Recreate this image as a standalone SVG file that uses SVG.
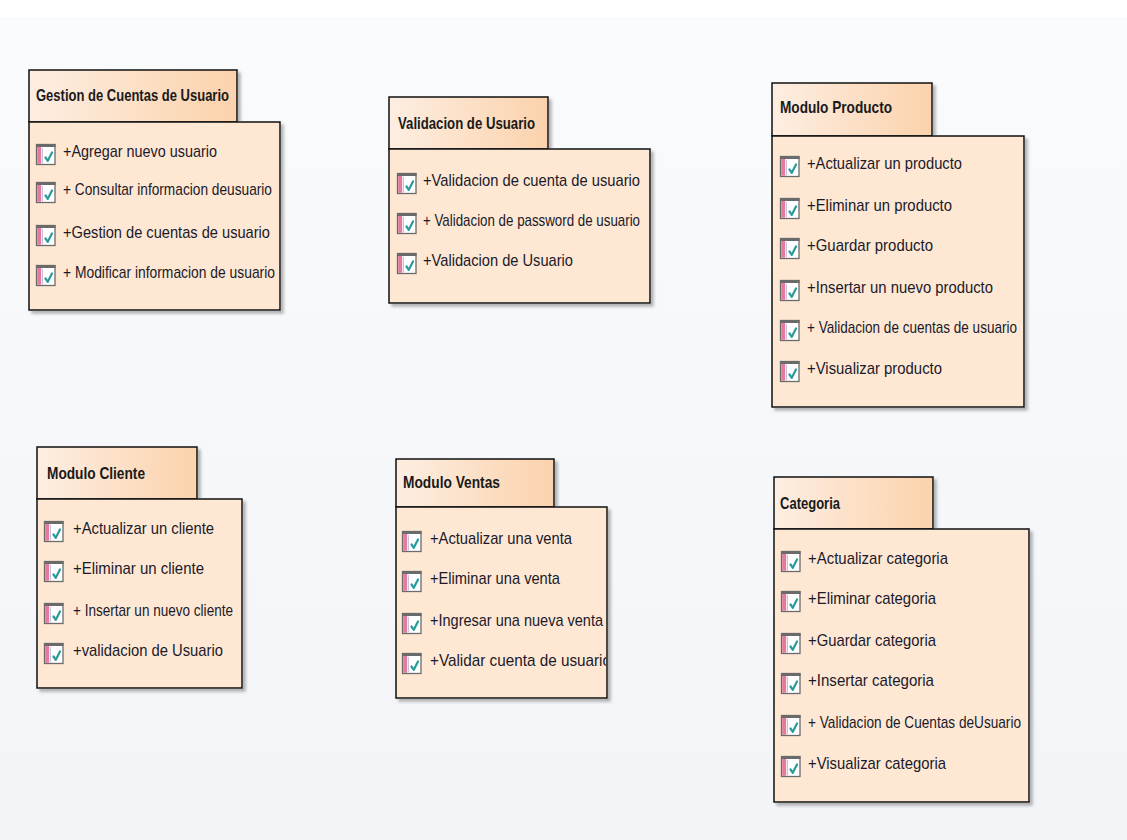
<svg xmlns="http://www.w3.org/2000/svg" xmlns:xlink="http://www.w3.org/1999/xlink" width="1127" height="840" viewBox="0 0 1127 840">
  <defs>
    <linearGradient id="bg" x1="0" y1="0" x2="0" y2="1">
      <stop offset="0" stop-color="#fafbfc"/>
      <stop offset="1" stop-color="#f2f4f8"/>
    </linearGradient>
    <linearGradient id="tabFill" x1="0" y1="0" x2="1" y2="0">
      <stop offset="0" stop-color="#fdeee2"/>
      <stop offset="1" stop-color="#fbd2ac"/>
    </linearGradient>
    <filter id="shadow" x="-10%" y="-10%" width="130%" height="130%">
      <feDropShadow dx="3" dy="3" stdDeviation="1.8" flood-color="#7a7a7a" flood-opacity="0.55"/>
    </filter>
    <!-- operation checkbox icon -->
    <g id="op">
      <rect x="0.5" y="0.5" width="18.5" height="20" fill="#ffffff" stroke="#6a6a6a" stroke-width="1.3"/>
      <rect x="0" y="0" width="19.5" height="3" fill="#6a6a6a"/>
      <rect x="1.2" y="3" width="4" height="16.8" fill="#e47a9c"/>
      <line x1="6.5" y1="4" x2="6.5" y2="19.5" stroke="#c8c0e0" stroke-width="1"/>
      <path d="M9.5 13.5 L11.8 16.8 L16 8.5" fill="none" stroke="#2a9a9a" stroke-width="2.2" stroke-linecap="round" stroke-linejoin="round"/>
    </g>
    <clipPath id="clipVentas">
      <rect x="396" y="507" width="210" height="191"/>
    </clipPath>
  </defs>
  <style>
    .tab { fill: url(#tabFill); stroke: #111; stroke-width: 1.5; }
    .body { fill: #fee8d4; stroke: #111; stroke-width: 1.5; }
    .title { font-family: "Liberation Sans Narrow", "Liberation Sans", sans-serif; font-size: 16.5px; font-weight: bold; fill: #1a1a1a; }
    .item { font-family: "Liberation Sans Narrow", "Liberation Sans", sans-serif; font-size: 17px; fill: #1a1a2a; }
  </style>

  <rect x="0" y="0" width="1127" height="840" fill="#ffffff"/>
  <rect x="0" y="17" width="1127" height="823" fill="url(#bg)"/>

  <!-- Gestion de Cuentas de Usuario -->
  <g id="pkg-gestion-cuentas">
    <g filter="url(#shadow)">
      <rect class="tab" x="29" y="70" width="208" height="52"/>
      <rect class="body" x="29" y="122" width="251" height="188"/>
    </g>
    <text class="title" x="36" y="101" textLength="193" lengthAdjust="spacingAndGlyphs">Gestion de Cuentas de Usuario</text>
    <use xlink:href="#op" x="36" y="144"/>
    <text class="item" x="63" y="157" textLength="154" lengthAdjust="spacingAndGlyphs">+Agregar nuevo usuario</text>
    <use xlink:href="#op" x="36" y="182"/>
    <text class="item" x="63" y="195" textLength="209" lengthAdjust="spacingAndGlyphs">+ Consultar informacion deusuario</text>
    <use xlink:href="#op" x="36" y="225"/>
    <text class="item" x="63" y="238" textLength="207" lengthAdjust="spacingAndGlyphs">+Gestion de cuentas de usuario</text>
    <use xlink:href="#op" x="36" y="265"/>
    <text class="item" x="63" y="278" textLength="212" lengthAdjust="spacingAndGlyphs">+ Modificar informacion de usuario</text>
  </g>

  <!-- Validacion de Usuario -->
  <g id="pkg-validacion-usuario">
    <g filter="url(#shadow)">
      <rect class="tab" x="389" y="97" width="159" height="52"/>
      <rect class="body" x="389" y="149" width="261" height="154"/>
    </g>
    <text class="title" x="398" y="129" textLength="137" lengthAdjust="spacingAndGlyphs">Validacion de Usuario</text>
    <use xlink:href="#op" x="397" y="173"/>
    <text class="item" x="423" y="186" textLength="217" lengthAdjust="spacingAndGlyphs">+Validacion de cuenta de usuario</text>
    <use xlink:href="#op" x="397" y="213"/>
    <text class="item" x="423" y="226" textLength="217" lengthAdjust="spacingAndGlyphs">+ Validacion de password de usuario</text>
    <use xlink:href="#op" x="397" y="253"/>
    <text class="item" x="423" y="266" textLength="150" lengthAdjust="spacingAndGlyphs">+Validacion de Usuario</text>
  </g>

  <!-- Modulo Producto -->
  <g id="pkg-modulo-producto">
    <g filter="url(#shadow)">
      <rect class="tab" x="772" y="83" width="160" height="53"/>
      <rect class="body" x="772" y="136" width="252" height="271"/>
    </g>
    <text class="title" x="780" y="113" textLength="112" lengthAdjust="spacingAndGlyphs">Modulo Producto</text>
    <use xlink:href="#op" x="780" y="156"/>
    <text class="item" x="807" y="169" textLength="155" lengthAdjust="spacingAndGlyphs">+Actualizar un producto</text>
    <use xlink:href="#op" x="780" y="198"/>
    <text class="item" x="807" y="211" textLength="145" lengthAdjust="spacingAndGlyphs">+Eliminar un producto</text>
    <use xlink:href="#op" x="780" y="238"/>
    <text class="item" x="807" y="251" textLength="126" lengthAdjust="spacingAndGlyphs">+Guardar producto</text>
    <use xlink:href="#op" x="780" y="280"/>
    <text class="item" x="807" y="293" textLength="186" lengthAdjust="spacingAndGlyphs">+Insertar un nuevo producto</text>
    <use xlink:href="#op" x="780" y="320"/>
    <text class="item" x="807" y="333" textLength="210" lengthAdjust="spacingAndGlyphs">+ Validacion de cuentas de usuario</text>
    <use xlink:href="#op" x="780" y="361"/>
    <text class="item" x="807" y="374" textLength="135" lengthAdjust="spacingAndGlyphs">+Visualizar producto</text>
  </g>

  <!-- Modulo Cliente -->
  <g id="pkg-modulo-cliente">
    <g filter="url(#shadow)">
      <rect class="tab" x="37" y="447" width="160" height="52"/>
      <rect class="body" x="37" y="499" width="205" height="189"/>
    </g>
    <text class="title" x="47" y="479" textLength="98" lengthAdjust="spacingAndGlyphs">Modulo Cliente</text>
    <use xlink:href="#op" x="44" y="521"/>
    <text class="item" x="73" y="534" textLength="141" lengthAdjust="spacingAndGlyphs">+Actualizar un cliente</text>
    <use xlink:href="#op" x="44" y="561"/>
    <text class="item" x="73" y="574" textLength="131" lengthAdjust="spacingAndGlyphs">+Eliminar un cliente</text>
    <use xlink:href="#op" x="44" y="603"/>
    <text class="item" x="73" y="616" textLength="160" lengthAdjust="spacingAndGlyphs">+ Insertar un nuevo cliente</text>
    <use xlink:href="#op" x="44" y="643"/>
    <text class="item" x="73" y="656" textLength="150" lengthAdjust="spacingAndGlyphs">+validacion de Usuario</text>
  </g>

  <!-- Modulo Ventas -->
  <g id="pkg-modulo-ventas">
    <g filter="url(#shadow)">
      <rect class="tab" x="396" y="459" width="158" height="48"/>
      <rect class="body" x="396" y="507" width="211" height="191"/>
    </g>
    <text class="title" x="403" y="488" textLength="97" lengthAdjust="spacingAndGlyphs">Modulo Ventas</text>
    <use xlink:href="#op" x="402" y="531"/>
    <text class="item" x="430" y="544" textLength="142" lengthAdjust="spacingAndGlyphs">+Actualizar una venta</text>
    <use xlink:href="#op" x="402" y="571"/>
    <text class="item" x="430" y="584" textLength="130" lengthAdjust="spacingAndGlyphs">+Eliminar una venta</text>
    <use xlink:href="#op" x="402" y="613"/>
    <text class="item" x="430" y="626" textLength="173" lengthAdjust="spacingAndGlyphs">+Ingresar una nueva venta</text>
    <use xlink:href="#op" x="402" y="653"/>
    <text class="item" x="430" y="666" textLength="181" lengthAdjust="spacingAndGlyphs" clip-path="url(#clipVentas)">+Validar cuenta de usuario</text>
  </g>

  <!-- Categoria -->
  <g id="pkg-categoria">
    <g filter="url(#shadow)">
      <rect class="tab" x="774" y="477" width="159" height="52"/>
      <rect class="body" x="774" y="529" width="255" height="273"/>
    </g>
    <text class="title" x="780" y="509" textLength="60" lengthAdjust="spacingAndGlyphs">Categoria</text>
    <use xlink:href="#op" x="781" y="551"/>
    <text class="item" x="808" y="564" textLength="140" lengthAdjust="spacingAndGlyphs">+Actualizar categoria</text>
    <use xlink:href="#op" x="781" y="591"/>
    <text class="item" x="808" y="604" textLength="128" lengthAdjust="spacingAndGlyphs">+Eliminar categoria</text>
    <use xlink:href="#op" x="781" y="633"/>
    <text class="item" x="808" y="646" textLength="128" lengthAdjust="spacingAndGlyphs">+Guardar categoria</text>
    <use xlink:href="#op" x="781" y="673"/>
    <text class="item" x="808" y="686" textLength="126" lengthAdjust="spacingAndGlyphs">+Insertar categoria</text>
    <use xlink:href="#op" x="781" y="715"/>
    <text class="item" x="808" y="728" textLength="213" lengthAdjust="spacingAndGlyphs">+ Validacion de Cuentas deUsuario</text>
    <use xlink:href="#op" x="781" y="756"/>
    <text class="item" x="808" y="769" textLength="138" lengthAdjust="spacingAndGlyphs">+Visualizar categoria</text>
  </g>
</svg>
